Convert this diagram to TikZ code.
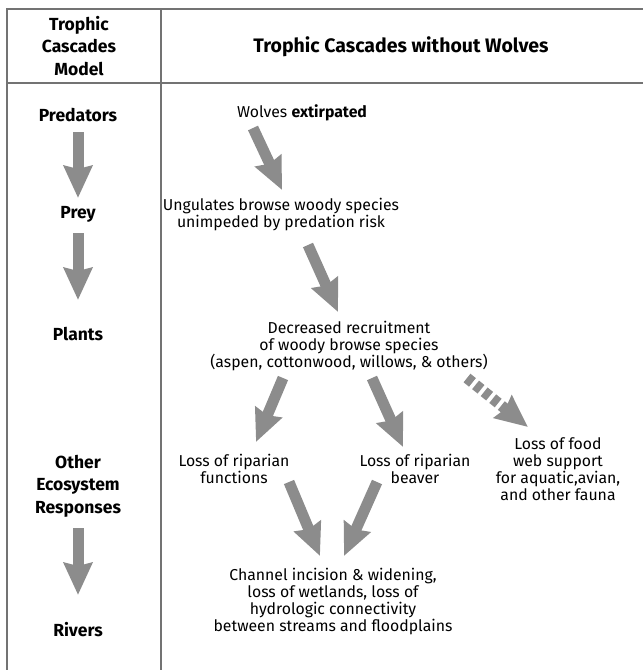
\documentclass[tikz,border=0pt]{standalone}
\usepackage{fontspec}
\setmainfont{Fira Sans}
\usepackage{tikz}
\usetikzlibrary{arrows.meta}
\definecolor{arrgray}{gray}{0.55}
\definecolor{rulegray}{gray}{0.45}
\tikzstyle{col}=[font=\bfseries\fontsize{17.5}{22.5}\selectfont,align=center,inner sep=0pt]
\tikzstyle{hdr}=[font=\bfseries\fontsize{19.5}{22}\selectfont,inner sep=0pt]
\tikzstyle{txt}=[font=\fontsize{15.8}{17}\selectfont,align=center,inner sep=0pt]
\tikzstyle{fat}=[draw=arrgray,line width=11pt,-{Stealth[length=32pt,width=28pt,inset=3pt]}]
\tikzstyle{fatdash}=[fat,dash pattern=on 7pt off 4pt]
\tikzstyle{rule}=[draw=rulegray,line width=1.4pt]

\begin{document}
\begin{tikzpicture}[x=1pt,y=-1pt]
\useasboundingbox (0,0) rectangle (643,670);
\draw[rule] (643,9) -- (7,9) -- (7,670) (7,83) -- (643,83) (161,9) -- (161,670);
\node[col] (trophic) at (79,46) {Trophic\\Cascades\\Model};
\node[hdr] (title) at (401,47) {Trophic Cascades without Wolves};
\node[col] (pred) at (78,115) {Predators};
\node[col] (prey) at (78,214) {Prey};
\node[col] (plants) at (78,334) {Plants};
\node[col] (resp) at (78,486) {Other\\Ecosystem\\Responses};
\node[col] (rivers) at (78,630) {Rivers};
\foreach \a/\b/\s/\e in {pred/prey/17/-16, prey/plants/19/-34, resp/rivers/42/-35}
    \draw[fat] ([shift={(0,\s)}]\a.center) -- ([shift={(0,\e)}]\b.center);
\node[txt] (wolves) at (302,113) {Wolves \textbf{extirpated}};
\node[txt] (ungul) at (281,215) {Ungulates browse woody species\\unimpeded by predation risk};
\node[txt] (decr) at (349,346) {Decreased recruitment\\of woody browse species\\(aspen, cottonwood, willows, \& others)};
\node[txt] (func) at (234,469) {Loss of riparian\\functions};
\node[txt] (beaver) at (415,469) {Loss of riparian\\beaver};
\node[txt] (food) at (558,469) {Loss of food\\web support\\for aquatic,avian,\\and other fauna};
\node[txt] (chan) at (333,602) {Channel incision \& widening,\\loss of wetlands, loss of\\hydrologic connectivity\\between streams and floodplains};
\draw[fat] ([shift={(-49,15)}]wolves.center) -- ([shift={(1,-25)}]ungul.center);
\draw[fat] ([shift={(27,30)}]ungul.center) -- ([shift={(-11,-34)}]decr.center);
\draw[fat] ([shift={(-66,32)}]decr.center) -- ([shift={(22,-27)}]func.center);
\draw[fat] ([shift={(23,32)}]decr.center) -- ([shift={(-12,-22)}]beaver.center);
\draw[fatdash] ([shift={(118,32)}]decr.center) -- ([shift={(-30,-42)}]food.center);
\draw[fat] ([shift={(55,13)}]func.center) -- ([shift={(-13,-46)}]chan.center);
\draw[fat] ([shift={(-38,13)}]beaver.center) -- ([shift={(11,-46)}]chan.center);
\end{tikzpicture}
\end{document}
